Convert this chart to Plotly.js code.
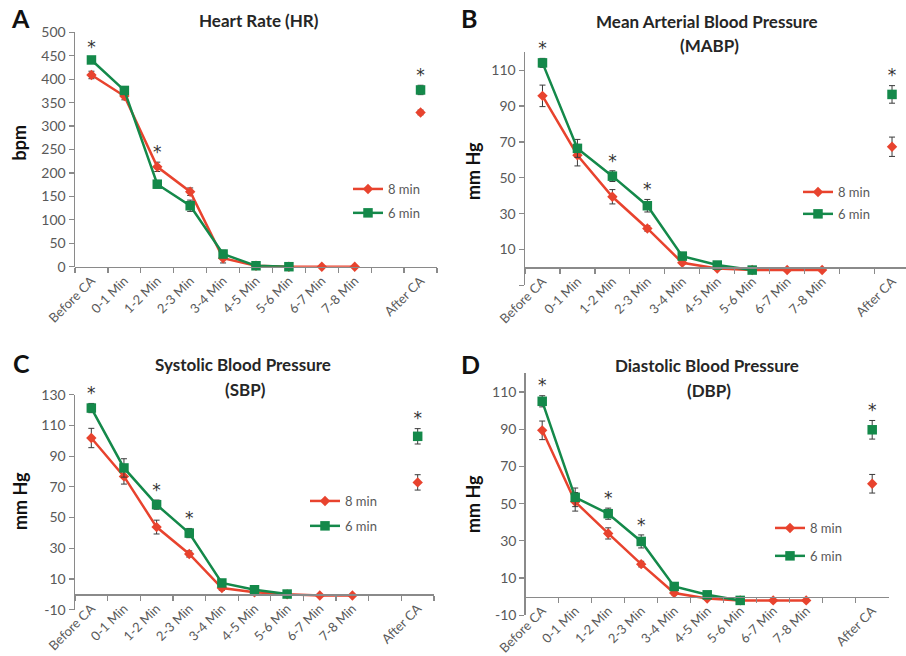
<!DOCTYPE html>
<html>
<head>
<meta charset="utf-8">
<script src="https://cdn.plot.ly/plotly-3.0.1.min.js"></script>
<style>html,body{margin:0;padding:0;background:#fff;}#chart{width:906px;height:656px;}</style>
</head>
<body>
<div id="chart"></div>
<script>
// ---------------- DATA ----------------
const categories = ['Before CA','0-1 Min','1-2 Min','2-3 Min','3-4 Min','4-5 Min','5-6 Min','6-7 Min','7-8 Min',' ','After CA'];
const seriesNames = ['8 min', '6 min'];

// A: Heart Rate (bpm)
const hr8    = [409, 364, 213, 160, 18, 2, 0, 0, 0, null, 329];
const hr8Err = [8, 8, 10, 8, 10, 2, 0, 0, 0, null, 5];
const hr6    = [441, 376, 176, 130, 27, 2, 0, null, null, null, 377];
const hr6Err = [5, 5, 8, 12, 8, 2, 0, null, null, null, 10];
const hrStarCats = ['Before CA', '1-2 Min', 'After CA'];

// B: Mean Arterial Blood Pressure (mm Hg)
const mabp8    = [95.7, 62.6, 39.4, 21.7, 2.6, -0.6, -1.5, -1.5, -1.5, null, 67.3];
const mabp8Err = [6, 6, 4, 1.5, 1, 0.5, 0.5, 0.5, 0.5, null, 5.4];
const mabp6    = [114.1, 66.4, 50.9, 34.4, 6.3, 1.3, -1.5, null, null, null, 96.5];
const mabp6Err = [2.5, 5, 3, 3.5, 1.5, 1, 0.5, null, null, null, 4.9];
const mabpStarCats = ['Before CA', '1-2 Min', '2-3 Min', 'After CA'];

// C: Systolic Blood Pressure (mm Hg)
const sbp8    = [101.8, 76.8, 43.8, 26.3, 4.1, 1.3, 0, -0.8, -0.8, null, 72.9];
const sbp8Err = [6.3, 5, 4.5, 2, 1.5, 0.5, 0.5, 0.5, 0.5, null, 5];
const sbp6    = [121.3, 82.3, 58.4, 39.9, 7.4, 3, 0.2, null, null, null, 102.9];
const sbp6Err = [3, 6, 3, 3, 1.5, 1, 0.5, null, null, null, 5];
const sbpStarCats = ['Before CA', '1-2 Min', '2-3 Min', 'After CA'];

// D: Diastolic Blood Pressure (mm Hg)
const dbp8    = [89.4, 51, 34, 17.5, 2, -1, -2, -2, -2, null, 60.7];
const dbp8Err = [5, 5, 3, 1.5, 1, 0.5, 0.5, 0.5, 0.5, null, 5];
const dbp6    = [105, 53.4, 44.6, 29.7, 5.5, 1, -2, null, null, null, 89.7];
const dbp6Err = [3, 5, 3, 3.5, 1.5, 1, 0.5, null, null, null, 5];
const dbpStarCats = ['Before CA', '1-2 Min', '2-3 Min', 'After CA'];

// tick values
const hrTicks   = [0, 50, 100, 150, 200, 250, 300, 350, 400, 450, 500];
const mabpTicks = [-10, 10, 30, 50, 70, 90, 110];
const mabpTickText = ['', '10', '30', '50', '70', '90', '110'];
const sbpTicks  = [-10, 10, 30, 50, 70, 90, 110, 130];
const dbpTicks  = [-10, 10, 30, 50, 70, 90, 110];

const panelLetters = ['A', 'B', 'C', 'D'];
const titleLine1 = ['Heart Rate (HR)', 'Mean Arterial Blood Pressure', 'Systolic Blood Pressure', 'Diastolic Blood Pressure'];
const titleLine2 = ['', '(MABP)', '(SBP)', '(DBP)'];
const yTitles = ['bpm', 'mm Hg', 'mm Hg', 'mm Hg'];

// ---------------- STYLE / LAYOUT ----------------
const W = 906, H = 656;
const RED = '#E8432E', GREEN = '#14894A';
const AX = '#8a8a8a', TXT = '#595959', DARK = '#262626', STAR = '#333333';
const FONT = 'Lato, "Open Sans", sans-serif';

const px = v => v / W;
const py = v => 1 - v / H;

const panels = [
  { s8: hr8, e8: hr8Err, s6: hr6, e6: hr6Err, starC: hrStarCats,
    yr: [0, 500], tv: hrTicks, tt: hrTicks.map(String),
    xd: [75, 437], yd: [266.7, 32.3], xr: [-0.5, 10.5],
    letter: [20, 18], t1: [259, 21], t2: null, yt: [18.5, 143],
    leg: [348, 174], gap: 4 },
  { s8: mabp8, e8: mabp8Err, s6: mabp6, e6: mabp6Err, starC: mabpStarCats,
    yr: [-10, 120], tv: mabpTicks, tt: mabpTickText,
    xd: [525, 906], yd: [285.3, 52.3], xr: [-0.5, 10.4],
    letter: [469, 18], t1: [707, 21.5], t2: [709, 45], yt: [473, 171],
    leg: [798, 177], gap: 2 },
  { s8: sbp8, e8: sbp8Err, s6: sbp6, e6: sbp6Err, starC: sbpStarCats,
    yr: [-10, 130], tv: sbpTicks, tt: sbpTicks.map(String),
    xd: [75, 434], yd: [609.7, 394.7], xr: [-0.5, 10.5],
    letter: [21, 363], t1: [243, 364], t2: [245, 389], yt: [20, 501],
    leg: [305, 486], gap: 5 },
  { s8: dbp8, e8: dbp8Err, s6: dbp6, e6: dbp6Err, starC: dbpStarCats,
    yr: [-10, 120], tv: dbpTicks, tt: dbpTicks.map(String),
    xd: [525.7, 888.7], yd: [615.3, 373.4], xr: [-0.5, 10.5],
    letter: [470, 364], t1: [707, 365], t2: [709, 390], yt: [473, 504],
    leg: [770, 513], gap: 8 }
];

const traces = [];
const layout = {
  width: W, height: H,
  margin: { l: 0, r: 0, t: 0, b: 0 },
  paper_bgcolor: '#fff', plot_bgcolor: 'rgba(0,0,0,0)',
  font: { family: FONT, color: TXT },
  annotations: [],
  showlegend: true
};

panels.forEach((p, i) => {
  const n = i === 0 ? '' : String(i + 1);
  const xa = 'x' + n, ya = 'y' + n;
  const legName = i === 0 ? 'legend' : 'legend' + (i + 1);

  const yDom = [py(p.yd[0]), py(p.yd[1])];
  const zeroFrac = yDom[0] + (0 - p.yr[0]) / (p.yr[1] - p.yr[0]) * (yDom[1] - yDom[0]);

  layout['xaxis' + n] = {
    domain: [px(p.xd[0]), Math.min(1, px(p.xd[1]))],
    anchor: 'free', position: zeroFrac,
    type: 'category', categoryorder: 'array', categoryarray: categories,
    range: p.xr, showgrid: false, zeroline: false,
    showline: true, linecolor: AX, linewidth: 1.5,
    ticks: 'outside', tickson: 'boundaries', ticklen: 5, tickwidth: 1.2, tickcolor: AX,
    tickangle: -45, tickfont: { family: FONT, size: 13, color: TXT },
    fixedrange: true
  };
  layout['yaxis' + n] = {
    domain: yDom, anchor: xa, range: p.yr,
    tickmode: 'array', tickvals: p.tv, ticktext: p.tt,
    showgrid: false, zeroline: false,
    showline: true, linecolor: AX, linewidth: 1.5,
    ticks: 'outside', ticklen: 5, tickwidth: 1.2, tickcolor: AX,
    tickfont: { family: FONT, size: 14, color: TXT },
    fixedrange: true
  };
  layout[legName] = {
    x: px(p.leg[0]), y: py(p.leg[1]), xanchor: 'left', yanchor: 'top',
    bgcolor: 'rgba(0,0,0,0)', borderwidth: 0,
    font: { family: FONT, size: 13, color: TXT },
    tracegroupgap: p.gap, traceorder: 'grouped'
  };

  traces.push({
    type: 'scatter', mode: 'lines+markers', name: seriesNames[0],
    x: categories, y: p.s8, xaxis: xa, yaxis: ya, legend: legName, legendgroup: 'a' + i,
    line: { color: RED, width: 2.5 },
    marker: { symbol: 'diamond', size: 8, color: RED },
    error_y: { type: 'data', array: p.e8, visible: true, color: '#3a3a3a', thickness: 1, width: 3 },
    connectgaps: false, cliponaxis: false
  });
  traces.push({
    type: 'scatter', mode: 'lines+markers', name: seriesNames[1],
    x: categories, y: p.s6, xaxis: xa, yaxis: ya, legend: legName, legendgroup: 'b' + i,
    line: { color: GREEN, width: 2.5 },
    marker: { symbol: 'square', size: 9.5, color: GREEN },
    error_y: { type: 'data', array: p.e6, visible: true, color: '#3a3a3a', thickness: 1, width: 3 },
    connectgaps: false, cliponaxis: false
  });
  // significance asterisks: anchored on the top of the highest error bar, text drawn above it
  const starY = p.starC.map(c => {
    const k = categories.indexOf(c);
    return Math.max(p.s8[k] + p.e8[k], p.s6[k] + p.e6[k]);
  });
  traces.push({
    type: 'scatter', mode: 'text', showlegend: false, hoverinfo: 'skip',
    x: p.starC, y: starY, xaxis: xa, yaxis: ya,
    text: p.starC.map(() => '*'), textposition: 'top center',
    marker: { color: STAR, size: 6 },
    textfont: { family: '"DejaVu Sans", sans-serif', size: 17, color: STAR },
    cliponaxis: false
  });

  // panel letter
  layout.annotations.push({
    xref: 'paper', yref: 'paper', x: px(p.letter[0]), y: py(p.letter[1]),
    xanchor: 'center', yanchor: 'middle', showarrow: false,
    text: '<b>' + panelLetters[i] + '</b>', font: { family: FONT, size: 25, color: '#111' }
  });
  // titles
  layout.annotations.push({
    xref: 'paper', yref: 'paper', x: px(p.t1[0]), y: py(p.t1[1]),
    xanchor: 'center', yanchor: 'middle', showarrow: false,
    text: '<b>' + titleLine1[i] + '</b>', font: { family: FONT, size: 17, color: DARK }
  });
  if (p.t2) {
    layout.annotations.push({
      xref: 'paper', yref: 'paper', x: px(p.t2[0]), y: py(p.t2[1]),
      xanchor: 'center', yanchor: 'middle', showarrow: false,
      text: '<b>' + titleLine2[i] + '</b>', font: { family: FONT, size: 17, color: DARK }
    });
  }
  // y-axis title
  layout.annotations.push({
    xref: 'paper', yref: 'paper', x: px(p.yt[0]), y: py(p.yt[1]),
    xanchor: 'center', yanchor: 'middle', showarrow: false, textangle: -90,
    text: '<b>' + yTitles[i] + '</b>', font: { family: FONT, size: 18, color: '#111' }
  });
});

Plotly.newPlot('chart', traces, layout, { staticPlot: true, displayModeBar: false });
</script>
</body>
</html>
